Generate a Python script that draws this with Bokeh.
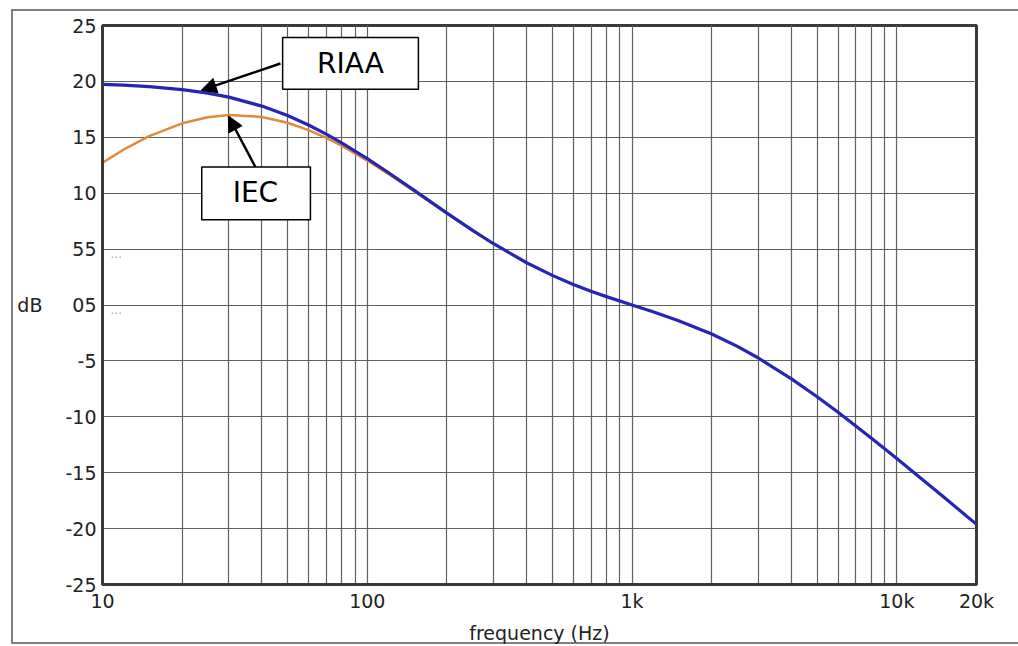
from bokeh.plotting import figure
from bokeh.models import (Range1d, FixedTicker, BoxAnnotation, Label, Arrow, NormalHead)
from bokeh.embed import file_html
from bokeh.resources import INLINE

# ---- data ----
freq_riaa = [10, 12, 15, 20, 25, 30, 40, 50, 60, 70, 80, 100, 120, 150, 200, 250, 300,
             400, 500, 600, 700, 800, 1000, 1200, 1500, 2000, 2500, 3000, 4000, 5000,
             6000, 7000, 8000, 10000, 12000, 15000, 20000]
db_riaa = [19.74, 19.67, 19.54, 19.27, 18.95, 18.59, 17.79, 16.95, 16.10, 15.29, 14.51,
           13.09, 11.85, 10.27, 8.22, 6.68, 5.48, 3.78, 2.65, 1.84, 1.23, 0.75, 0.0,
           -0.61, -1.40, -2.59, -3.70, -4.74, -6.61, -8.21, -9.60, -10.82, -11.90,
           -13.74, -15.27, -17.16, -19.62]
freq_iec = [10, 12, 15, 20, 25, 30, 40, 50, 60, 70, 80, 100, 120, 150, 200, 250, 300]
db_iec = [12.74, 13.89, 15.10, 16.25, 16.80, 16.99, 16.82, 16.30, 15.64, 14.95, 14.25,
          12.92, 11.73, 10.19, 8.18, 6.65, 5.46]

x_ticks = [10, 100, 1000, 10000, 20000]
x_tick_labels = ["10", "100", "1k", "10k", "20k"]
x_grid = [20, 30, 40, 50, 60, 70, 80, 90, 100, 200, 300, 400, 500, 600, 700, 800, 900,
          1000, 2000, 3000, 4000, 5000, 6000, 7000, 8000, 9000, 10000]
y_ticks = [-25, -20, -15, -10, -5, 0, 5, 10, 15, 20, 25]
y_tick_labels = ["-25", "-20", "-15", "-10", "-5", "05", "55", "10", "15", "20", "25"]

FONT = "DejaVu Sans"
BORDER = "#7f7f7f"

p = figure(width=1018, height=646, x_axis_type="log",
           x_range=Range1d(10, 20000), y_range=Range1d(-25, 25),
           output_backend="svg", toolbar_location=None,
           min_border_left=102, min_border_right=42, min_border_top=25, min_border_bottom=60)

p.background_fill_color = "white"
p.border_fill_alpha = 0
p.outline_line_color = "#3a3a3a"
p.outline_line_width = 3

# outer picture frame (left, top and bottom edges) drawn behind the transparent canvas
p.styles = {
    "background-color": "white",
    "background-image": ", ".join([f"linear-gradient({BORDER}, {BORDER})"] * 3),
    "background-size": "2px 635px, 1010px 2px, 1010px 2px",
    "background-position": "11px 9px, 11px 9px, 11px 642px",
    "background-repeat": "no-repeat",
}

for ax in (p.xaxis[0], p.yaxis[0]):
    ax.axis_line_color = "#3a3a3a"
    ax.axis_line_width = 3
    ax.major_tick_line_color = None
    ax.minor_tick_line_color = None
    ax.major_tick_out = 0
    ax.major_tick_in = 0
    ax.minor_tick_out = 0
    ax.minor_tick_in = 0
    ax.major_label_text_font = FONT
    ax.major_label_text_font_size = "19px"
    ax.major_label_text_color = "#222222"
    ax.axis_label_text_font = FONT
    ax.axis_label_text_font_size = "19px"
    ax.axis_label_text_font_style = "normal"
    ax.axis_label_text_color = "#222222"

p.xaxis.ticker = FixedTicker(ticks=x_ticks)
p.xaxis.major_label_overrides = {t: l for t, l in zip(x_ticks, x_tick_labels)}
p.xaxis.major_label_standoff = 5
p.xaxis.axis_label = "frequency (Hz)"
p.xaxis.axis_label_standoff = 7

p.yaxis.ticker = FixedTicker(ticks=y_ticks)
p.yaxis.major_label_overrides = {t: l for t, l in zip(y_ticks, y_tick_labels)}
p.yaxis.major_label_standoff = 6
p.yaxis.axis_label = "dB"
p.yaxis.axis_label_orientation = "horizontal"
p.yaxis.axis_label_standoff = 20

p.xgrid.ticker = FixedTicker(ticks=x_grid)
p.xgrid.grid_line_color = "#606060"
p.xgrid.grid_line_width = 1.2
p.ygrid.ticker = FixedTicker(ticks=y_ticks)
p.ygrid.grid_line_color = "#606060"
p.ygrid.grid_line_width = 1.2

p.line(freq_iec, db_iec, line_color="#e08a3c", line_width=2.5)
p.line(freq_riaa, db_riaa, line_color="#2626b4", line_width=3.2)

# the small grey dots that trail the 5 and 0 labels
for yv in (5, 0):
    p.add_layout(Label(x=10, y=yv, x_offset=8, y_offset=-4, text="...", text_font=FONT,
                       text_font_size="12px", text_color="#aaaaaa", level="overlay",
                       text_baseline="middle", text_align="left"))

# annotation boxes
p.add_layout(BoxAnnotation(left=47.9, right=156, top=23.93, bottom=19.3,
                           fill_color="white", fill_alpha=1.0,
                           line_color="black", line_alpha=1.0, line_width=1.5,
                           level="overlay"))
p.add_layout(Label(x=86.4, y=21.61, text="RIAA", text_font=FONT, text_font_size="28px",
                   text_color="black", text_align="center", text_baseline="middle",
                   level="overlay"))
p.add_layout(Arrow(x_start=47.0, y_start=21.6, x_end=23.6, y_end=19.2,
                   line_color="black", line_width=2.5, level="overlay",
                   end=NormalHead(size=15, fill_color="black", line_color="black")))

p.add_layout(BoxAnnotation(left=23.7, right=61.0, top=12.34, bottom=7.62,
                           fill_color="white", fill_alpha=1.0,
                           line_color="black", line_alpha=1.0, line_width=1.5,
                           level="overlay"))
p.add_layout(Label(x=37.8, y=10.03, text="IEC", text_font=FONT, text_font_size="28px",
                   text_color="black", text_align="center", text_baseline="middle",
                   level="overlay"))
p.add_layout(Arrow(x_start=37.8, y_start=12.34, x_end=29.9, y_end=16.9,
                   line_color="black", line_width=2.5, level="overlay",
                   end=NormalHead(size=15, fill_color="black", line_color="black")))

open("out.html", "w").write(file_html(p, INLINE))
